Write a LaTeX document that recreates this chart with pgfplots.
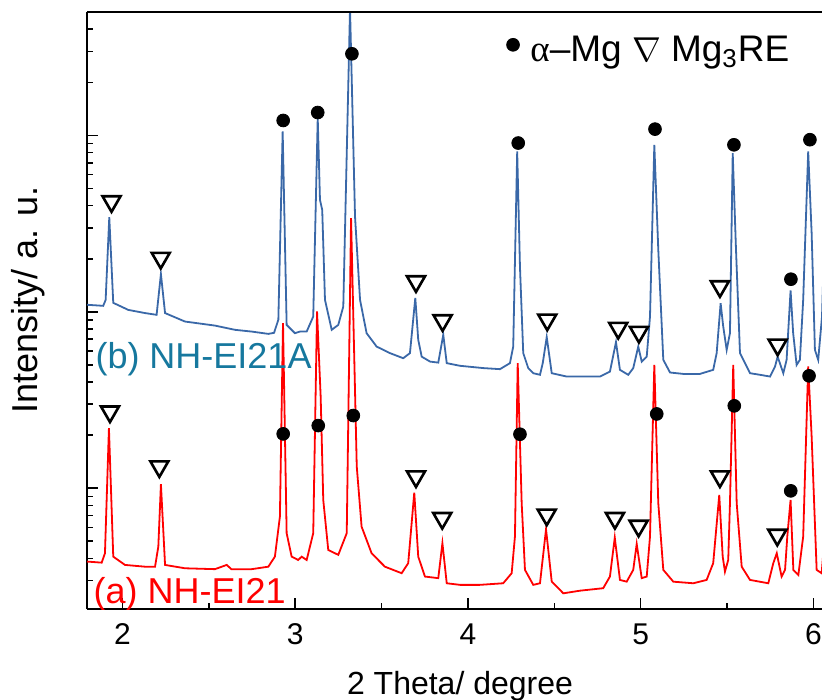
\documentclass[border=0pt]{standalone}
\usepackage{fontspec}
\setmainfont{Liberation Sans}
\newfontfamily\serifgr{Liberation Serif}
\usepackage{pgfplots}
\pgfplotsset{compat=1.18}

\definecolor{xrdblue}{RGB}{58,104,168}
\definecolor{labelblue}{RGB}{22,120,158}
\definecolor{xrdred}{RGB}{255,0,0}

% y values are log10(intensity), a.u.
\begin{document}
\begin{tikzpicture}
\begin{axis}[
    name=ax,
    width=367.5pt, height=298.5pt, scale only axis,
    xmin=1.794, xmax=6.05,
    ymin=-1.685, ymax=1.70,
    axis lines*=left,
    axis line style={line width=1pt},
    tick align=inside,
    xtick={2,3,4,5,6},
    minor xtick={2.5,3.5,4.5,5.5},
    ytick={-1,0,1},
    minor ytick={-1.523,-1.398,-1.301,-1.222,-1.155,-1.097,-1.046,
                 -0.699,-0.523,-0.398,-0.301,-0.222,-0.155,-0.097,-0.046,
                 0.301,0.477,0.602,0.699,0.778,0.845,0.903,0.954,
                 1.301,1.477,1.602},
    yticklabels={},
    major tick length=5.5pt, minor tick length=3.2pt,
    every tick/.style={black, line width=0.8pt},
    /pgf/number format/assume math mode=true,
    xticklabel style={font=\fontsize{15}{18}\selectfont, anchor=base, yshift=-17.5pt},
    xlabel={2 Theta/ degree},
    xlabel style={font=\fontsize{16}{19}\selectfont, at={(axis description cs:0.5075,-0.1424)}, anchor=base},
    ylabel={Intensity/ a. u.},
    ylabel style={font=\fontsize{18}{21}\selectfont, at={(axis description cs:-0.0667,0.5176)}, anchor=base},
    clip marker paths=true,
]
% (b) NH-EI21A
\addplot[xrdblue, line width=0.9pt] coordinates {
(1.794,0.040) (1.888,0.034) (1.902,0.068) (1.923,0.537) (1.946,0.051)
(2.033,0.011) (2.130,-0.007) (2.197,-0.017) (2.222,0.214) (2.246,-0.007)
(2.361,-0.055) (2.535,-0.078) (2.651,-0.102) (2.748,-0.112) (2.844,-0.125)
(2.877,-0.119) (2.902,-0.045) (2.927,1.023) (2.950,-0.074) (2.998,-0.121)
(3.027,-0.112) (3.066,-0.112) (3.104,-0.027) (3.130,1.098) (3.143,0.635)
(3.156,0.578) (3.172,0.068) (3.211,-0.102) (3.249,-0.074) (3.278,0.030)
(3.317,1.72) (3.346,0.540) (3.375,0.068) (3.413,-0.121) (3.471,-0.197)
(3.548,-0.234) (3.625,-0.263) (3.664,-0.234) (3.695,0.079) (3.712,-0.159)
(3.732,-0.254) (3.780,-0.282) (3.828,-0.288) (3.857,-0.130) (3.877,-0.291)
(3.954,-0.306) (4.089,-0.319) (4.185,-0.325) (4.243,-0.291) (4.262,-0.197)
(4.285,0.909) (4.301,0.257) (4.320,-0.234) (4.349,-0.319) (4.378,-0.348)
(4.417,-0.357) (4.433,-0.291) (4.456,-0.143) (4.485,-0.348) (4.572,-0.367)
(4.764,-0.367) (4.822,-0.339) (4.857,-0.172) (4.880,-0.329) (4.928,-0.357)
(4.957,-0.319) (4.986,-0.197) (5.006,-0.282) (5.035,-0.254) (5.054,-0.027)
(5.079,0.947) (5.102,0.352) (5.131,-0.272) (5.170,-0.344) (5.247,-0.352)
(5.343,-0.352) (5.420,-0.329) (5.440,-0.234) (5.463,0.049) (5.478,-0.083)
(5.498,-0.216) (5.517,-0.121) (5.533,0.900) (5.552,0.352) (5.575,-0.234)
(5.633,-0.348) (5.691,-0.357) (5.749,-0.367) (5.778,-0.310) (5.793,-0.254)
(5.826,-0.348) (5.845,-0.272) (5.868,0.121) (5.883,-0.121) (5.903,-0.301)
(5.922,-0.272) (5.941,0.068) (5.970,0.909) (5.990,0.446) (6.009,-0.216)
(6.028,-0.272) (6.050,-0.027) (6.070,0.635)
};
% (a) NH-EI21
\addplot[xrdred, line width=0.9pt] coordinates {
(1.794,-1.416) (1.879,-1.422) (1.898,-1.369) (1.921,-0.660) (1.946,-1.388)
(2.014,-1.435) (2.130,-1.445) (2.188,-1.445) (2.207,-1.331) (2.222,-0.977)
(2.246,-1.435) (2.361,-1.454) (2.535,-1.459) (2.603,-1.435) (2.630,-1.459)
(2.748,-1.459) (2.844,-1.445) (2.882,-1.388) (2.911,-1.161) (2.929,-0.064)
(2.950,-1.255) (2.979,-1.388) (3.017,-1.407) (3.037,-1.388) (3.066,-1.407)
(3.104,-1.255) (3.126,0.002) (3.147,-0.480) (3.162,-1.066) (3.191,-1.350)
(3.249,-1.378) (3.298,-1.255) (3.323,0.531) (3.356,-0.877) (3.384,-1.218)
(3.442,-1.369) (3.519,-1.445) (3.616,-1.482) (3.654,-1.425) (3.689,-1.025)
(3.712,-1.388) (3.751,-1.501) (3.828,-1.510) (3.852,-1.312) (3.877,-1.539)
(3.954,-1.548) (4.069,-1.548) (4.204,-1.539) (4.253,-1.482) (4.272,-1.274)
(4.288,-0.291) (4.311,-1.085) (4.330,-1.463) (4.378,-1.548) (4.417,-1.539)
(4.452,-1.233) (4.485,-1.530) (4.533,-1.577) (4.552,-1.596) (4.649,-1.581)
(4.783,-1.567) (4.822,-1.501) (4.850,-1.280) (4.880,-1.520) (4.919,-1.530)
(4.957,-1.463) (4.977,-1.316) (5.006,-1.510) (5.035,-1.501) (5.054,-1.274)
(5.079,-0.301) (5.102,-1.085) (5.131,-1.463) (5.189,-1.530) (5.305,-1.539)
(5.382,-1.520) (5.420,-1.425) (5.455,-1.038) (5.475,-1.388) (5.488,-1.473)
(5.507,-1.407) (5.517,-1.085) (5.536,-0.301) (5.556,-1.085) (5.585,-1.445)
(5.633,-1.520) (5.739,-1.539) (5.768,-1.425) (5.788,-1.369) (5.816,-1.501)
(5.836,-1.463) (5.849,-1.274) (5.868,-1.066) (5.884,-1.463) (5.913,-1.492)
(5.941,-1.274) (5.970,-0.310) (5.990,-0.707) (6.019,-1.463) (6.048,-1.482)
(6.073,-1.180)
};
% alpha-Mg peaks
\addplot[only marks, mark=*, mark size=3.2pt, black] coordinates {
(2.930,1.085) (3.130,1.130) (3.328,1.463) (4.291,0.957) (5.083,1.036)
(5.540,0.947) (5.870,0.185) (5.980,0.976) (6.055,0.732)
(2.930,-0.692) (3.133,-0.645) (3.336,-0.588) (4.301,-0.694) (5.093,-0.579)
(5.542,-0.533) (5.869,-1.015) (5.975,-0.363) (6.055,-0.482)
(4.261,1.514)
};
% Mg3RE peaks
\addplot[only marks, mark=triangle, mark size=5.2pt,
         mark options={rotate=180, line width=1.3pt, black, fill=white}] coordinates {
(1.936,0.626) (2.221,0.305) (3.699,0.172) (3.853,-0.049) (4.459,-0.045)
(4.870,-0.092) (4.990,-0.115) (5.459,0.144) (5.793,-0.187)
(1.927,-0.566) (2.213,-0.877) (3.699,-0.934) (3.851,-1.170) (4.456,-1.151)
(4.851,-1.170) (4.988,-1.214) (5.459,-0.934) (5.791,-1.265)
};
\node[anchor=base west, inner sep=0pt, font=\fontsize{18.5}{22}\selectfont]
    at (axis cs:4.359,1.421) {{\serifgr α}–Mg $\nabla$ Mg\textsubscript{3}RE};
\node[anchor=base west, inner sep=0pt, text=labelblue, font=\fontsize{18}{21}\selectfont]
    at (axis cs:1.841,-0.323) {(b) NH-EI21A};
\node[anchor=base west, inner sep=0pt, text=xrdred, font=\fontsize{18}{21}\selectfont]
    at (axis cs:1.830,-1.651) {(a) NH-EI21};
\end{axis}
\draw[line width=1pt] (ax.north west) -- (ax.north east);
\pgfresetboundingbox
\path[use as bounding box] ([shift={(-43.5pt,-45pt)}]ax.south west) rectangle ([shift={(0pt,6pt)}]ax.north east);
\end{tikzpicture}
\end{document}
